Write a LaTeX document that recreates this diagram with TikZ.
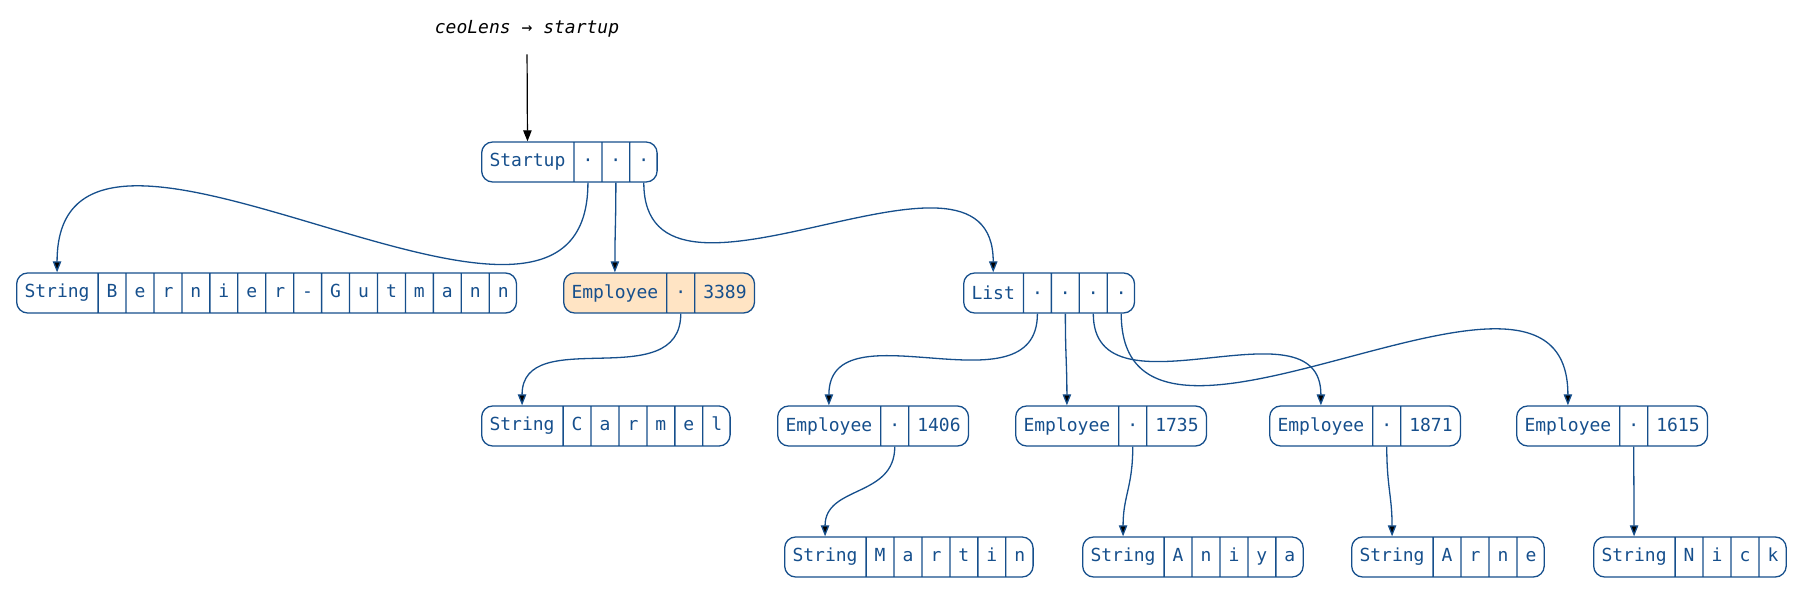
\documentclass[tikz,border=0pt]{standalone}
\usepackage{fontspec}
\newfontfamily\recfont{DejaVu Sans Mono}
\usetikzlibrary{shapes.multipart, arrows.meta}
\definecolor{recblue}{RGB}{22,79,140}
\definecolor{recfill}{RGB}{255,228,196}

\begin{document}
\begin{tikzpicture}[x=0.5pt, y=0.5pt, >={Triangle[length=5.5pt,width=4.2pt]},
    rec/.style={rectangle split, rectangle split horizontal, rectangle split parts=#1,
        rectangle split part align=base, draw=recblue, line width=0.65pt,
        rounded corners=5.5pt, text=recblue, font=\recfont\fontsize{9}{11}\selectfont,
        inner xsep=3.95pt, inner ysep=0pt, minimum height=20pt, anchor=west},
    link/.style={draw=recblue, line width=0.65pt, ->, out=-90, in=90, looseness=1.15}]
\useasboundingbox (0,0) rectangle (1804,589);
% root
\node[font=\recfont\itshape\fontsize{9}{11}\selectfont] (title) at (527,560) {ceoLens → startup};
\node[rec=4] (startup) at (481,427) {Startup\nodepart{two}·\nodepart{three}·\nodepart{four}·};
\draw[->, line width=0.6pt, shorten <=5pt] (title.south) -- (startup.one north);
% second row
\node[rec=16] (bernier) at (16,296) {String\nodepart{two}B\nodepart{three}e\nodepart{four}r\nodepart{five}n\nodepart{six}i\nodepart{seven}e\nodepart{eight}r\nodepart{nine}-\nodepart{ten}G\nodepart{eleven}u\nodepart{twelve}t\nodepart{thirteen}m\nodepart{fourteen}a\nodepart{fifteen}n\nodepart{sixteen}n};
\node[rec=3, fill=recfill] (emp3389) at (563,296) {Employee\nodepart{two}·\nodepart{three}3389};
\node[rec=5] (list) at (963,296) {List\nodepart{two}·\nodepart{three}·\nodepart{four}·\nodepart{five}·};
% third row
\node[rec=7] (carmel) at (481,163) {String\nodepart{two}C\nodepart{three}a\nodepart{four}r\nodepart{five}m\nodepart{six}e\nodepart{seven}l};
\node[rec=3] (emp1406) at (777,163) {Employee\nodepart{two}·\nodepart{three}1406};
\node[rec=3] (emp1735) at (1015,163) {Employee\nodepart{two}·\nodepart{three}1735};
\node[rec=3] (emp1871) at (1269,163) {Employee\nodepart{two}·\nodepart{three}1871};
\node[rec=3] (emp1615) at (1516,163) {Employee\nodepart{two}·\nodepart{three}1615};
% fourth row
\node[rec=7] (martin) at (784,32) {String\nodepart{two}M\nodepart{three}a\nodepart{four}r\nodepart{five}t\nodepart{six}i\nodepart{seven}n};
\node[rec=6] (aniya) at (1082,32) {String\nodepart{two}A\nodepart{three}n\nodepart{four}i\nodepart{five}y\nodepart{six}a};
\node[rec=5] (arne) at (1351,32) {String\nodepart{two}A\nodepart{three}r\nodepart{four}n\nodepart{five}e};
\node[rec=5] (nick) at (1593,32) {String\nodepart{two}N\nodepart{three}i\nodepart{four}c\nodepart{five}k};
% pointers
\draw[link] (startup.two south) to (bernier.one north);
\draw[link] (startup.three south) to (emp3389.one north);
\draw[link] (startup.four south) to (list.one north);
\draw[link] (emp3389.two south) to (carmel.one north);
\draw[link] (list.two south) to (emp1406.one north);
\draw[link] (list.three south) to (emp1735.one north);
\draw[link] (list.four south) to (emp1871.one north);
\draw[link] (list.five south) to (emp1615.one north);
\draw[link] (emp1406.two south) to (martin.one north);
\draw[link] (emp1735.two south) to (aniya.one north);
\draw[link] (emp1871.two south) to (arne.one north);
\draw[link] (emp1615.two south) to (nick.one north);
\end{tikzpicture}
\end{document}
